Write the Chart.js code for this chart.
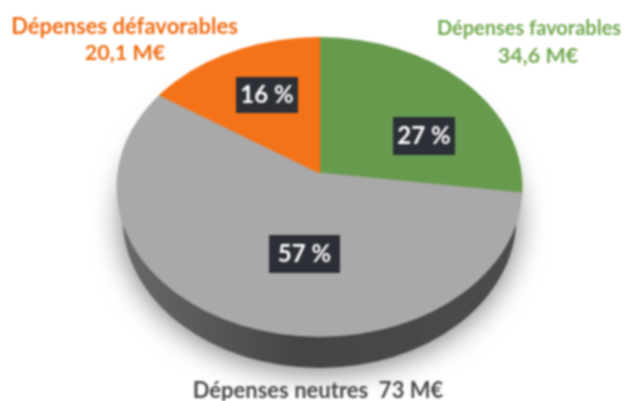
<!DOCTYPE html>
<html>
<head>
<meta charset="utf-8">
<style>
  html, body { margin: 0; background: #fff; }
  canvas { display: block; filter: blur(0.8px); }
</style>
<script src="https://cdn.jsdelivr.net/npm/chart.js@4"></script>
</head>
<body>
<canvas id="myChart" width="641" height="401"></canvas>
<script>
const categories = ["Dépenses favorables", "Dépenses neutres", "Dépenses défavorables"];
const amounts = [34.6, 73, 20.1];
const percentLabels = ["27 %", "57 %", "16 %"];
const colors = ["#669a4c", "#a9a9a9", "#f57318"];

// Top face of the fake 3D pie: ellipse outline and the off-centre apex
const face = { cx: 319.5, cy: 187, rx: 203, ry: 150, apexX: 319.5, apexY: 173, scaleX: 1.2, scaleY: 0.888 };
const rimDepth = 30;

// Same order as categories
const labelBoxes = [
  { x: 424, y: 136, w: 62, h: 38 },
  { x: 304.5, y: 254, w: 71, h: 38 },
  { x: 267, y: 95, w: 62, h: 36 },
];

const captions = [
  { text: "Dépenses défavorables", x: 124.5, y: 27, size: 22, color: "#ee6c14" },
  { text: "20,1 M€", x: 125, y: 53, size: 21.5, color: "#ee6c14" },
  { text: "Dépenses favorables", x: 529, y: 29, size: 20, color: "#72a850" },
  { text: "34,6 M€", x: 538, y: 56, size: 21.5, color: "#72a850" },
  { text: "Dépenses neutres  73 M€", x: 318, y: 391, size: 22, color: "#4a4a4a" },
];

const pie3d = {
  id: "pie3d",
  beforeDatasetsDraw(chart) {
    const ctx = chart.ctx;
    const center = chart.getDatasetMeta(0).data[0];

    // Rim with soft shadow
    ctx.save();
    const rim = ctx.createLinearGradient(face.cx - face.rx, 0, face.cx + face.rx, 0);
    rim.addColorStop(0, "#6a6a6a");
    rim.addColorStop(0.45, "#454545");
    rim.addColorStop(1, "#4c4c4c");
    ctx.shadowColor = "rgba(0,0,0,0.55)";
    ctx.shadowBlur = 30;
    ctx.shadowOffsetY = 3;
    ctx.fillStyle = rim;
    ctx.beginPath();
    ctx.ellipse(face.cx, face.cy + rimDepth, face.rx - 6, face.ry + 1, 0, 0, Math.PI * 2);
    ctx.fill();
    ctx.restore();

    // Slices are stretched past the outline, then clipped to it
    ctx.save();
    ctx.beginPath();
    ctx.ellipse(face.cx, face.cy, face.rx, face.ry, 0, 0, Math.PI * 2);
    ctx.clip();
    ctx.translate(face.apexX, face.apexY);
    ctx.scale(face.scaleX, face.scaleY);
    ctx.translate(-center.x, -center.y);
  },
  afterDatasetsDraw(chart) {
    const ctx = chart.ctx;
    ctx.restore();

    ctx.textAlign = "center";
    ctx.textBaseline = "middle";

    percentLabels.forEach((label, i) => {
      const box = labelBoxes[i];
      ctx.fillStyle = "#2d2f36";
      ctx.fillRect(box.x - box.w / 2, box.y - box.h / 2, box.w, box.h);
      ctx.fillStyle = "#fff";
      ctx.font = "bold 24px Lato";
      ctx.fillText(label, box.x, box.y);
    });

    captions.forEach((c) => {
      ctx.fillStyle = c.color;
      ctx.font = "bold " + c.size + "px Lato";
      ctx.fillText(c.text, c.x, c.y);
    });
  },
};

new Chart(document.getElementById("myChart").getContext("2d"), {
  type: "pie",
  data: {
    labels: categories,
    datasets: [
      {
        data: amounts,
        backgroundColor: colors,
        borderColor: colors,
        borderWidth: 1,
        clip: false,
      },
    ],
  },
  options: {
    responsive: false,
    animation: false,
    events: [],
    plugins: {
      legend: { display: false },
      tooltip: { enabled: false },
    },
  },
  plugins: [pie3d],
});
</script>
</body>
</html>
